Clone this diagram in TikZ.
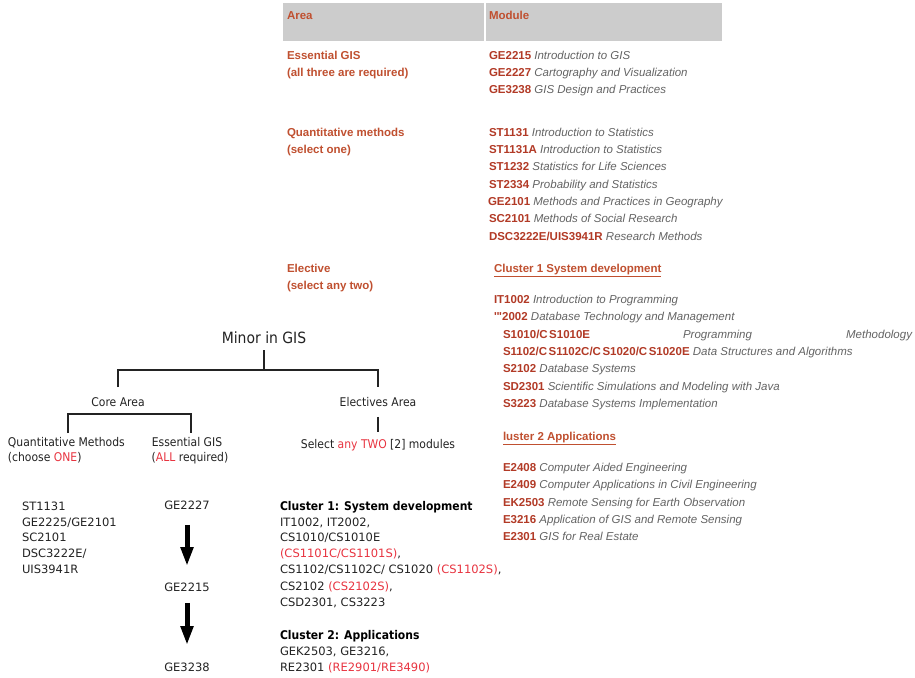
\documentclass[tikz,border=0pt]{standalone}
\usepackage{fontspec}
\setmainfont{Liberation Sans}
\newfontfamily\dvs{DejaVu Sans}
\newfontfamily\dvc{DejaVu Sans}[FakeStretch=0.9]
\usetikzlibrary{arrows.meta}
\definecolor{hdrgray}{RGB}{204,204,204}
\definecolor{areaC}{RGB}{192,80,48}
\definecolor{codeC}{RGB}{178,58,38}
\definecolor{descC}{RGB}{100,100,100}
\definecolor{redC}{RGB}{232,52,64}
\definecolor{inkC}{RGB}{35,35,35}
\newcommand\modl[2]{{\bfseries\color{codeC}#1} {\itshape\color{descC}#2}}
\tikzset{
  txt/.style={inner sep=0pt, outer sep=0pt, text depth=0pt},
  tbl/.style={txt, font=\fontsize{11.5}{13}\selectfont, text height=8.2pt, anchor=west},
  area/.style={tbl, font=\fontsize{11.5}{13}\selectfont\bfseries, text=areaC},
  tree/.style={txt, font=\dvc\fontsize{12}{14}\selectfont, text=inkC, text height=8.75pt},
  lst/.style={txt, font=\dvs\fontsize{11.5}{14}\selectfont, text=inkC, text height=8.4pt},
  lstw/.style={lst, anchor=west},
  clh/.style={txt, font=\dvc\bfseries\fontsize{12}{14}\selectfont, text=black, text height=8.75pt, anchor=west},
  link/.style={line width=1.4pt, draw=inkC},
  bigarrow/.style={line width=5pt, draw=black, -{Triangle[width=12pt,length=19pt]}},
  hdrcell/.style={fill=hdrgray, inner sep=0pt, outer sep=0pt, anchor=north west, minimum height=38pt}
}
\begin{document}
\begin{tikzpicture}[x=1pt,y=-1pt]
\useasboundingbox (0,0) rectangle (915,677);
\fill[white] (0,0) rectangle (915,677);

% ---- table header
\node[hdrcell, minimum width=201pt] (hA) at (283,3) {};
\node[hdrcell, minimum width=236pt] (hM) at (486,3) {};
\node[area] (hAt) at (287,15) {Area};
\node[area] (hMt) at (489,15) {Module};

% ---- area column
\node[area] (a1) at (287,55) {Essential GIS};
\node[area] (a1b) at (287,72) {(all three are required)};
\node[area] (a2) at (287,132) {Quantitative methods};
\node[area] (a2b) at (287,149) {(select one)};
\node[area] (a3) at (287,268) {Elective};
\node[area] (a3b) at (287,285) {(select any two)};

% ---- module column
\node[tbl] (m1) at (489,55) {\modl{GE2215}{Introduction to GIS}};
\node[tbl] (m2) at (489,72) {\modl{GE2227}{Cartography and Visualization}};
\node[tbl] (m3) at (489,89) {\modl{GE3238}{GIS Design and Practices}};
\node[tbl] (q1) at (489,132) {\modl{ST1131}{Introduction to Statistics}};
\node[tbl] (q2) at (489,149) {\modl{ST1131A}{Introduction to Statistics}};
\node[tbl] (q3) at (489,166) {\modl{ST1232}{Statistics for Life Sciences}};
\node[tbl] (q4) at (489,184) {\modl{ST2334}{Probability and Statistics}};
\node[tbl] (q5) at (488,201) {\modl{GE2101}{Methods and Practices in Geography}};
\node[tbl] (q6) at (489,218) {\modl{SC2101}{Methods of Social Research}};
\node[tbl] (q7) at (489,236) {\modl{DSC3222E/UIS3941R}{Research Methods}};

\node[area] (c1) at (494,268) {\underline{Cluster 1 System development}};
\node[tbl] (e1) at (494,299) {\modl{IT1002}{Introduction to Programming}};
\node[tbl] (e2) at (494,316) {\modl{\textquotesingle\textquotedbl2002}{Database Technology and Management}};
\node[tbl] (e3) at (503,334) {{\bfseries\color{codeC}S1010/C\kern1.5pt S1010E}};
\node[tbl] (e3b) at (683,334) {\itshape\color{descC}Programming};
\node[tbl, anchor=east] (e3c) at (912,334) {\itshape\color{descC}Methodology};
\node[tbl] (e4) at (503,351) {\modl{S1102/C\kern1.5pt S1102C/C\kern1.5pt S1020/C\kern1.5pt S1020E}{Data Structures and Algorithms}};
\node[tbl] (e5) at (503,368) {\modl{S2102}{Database Systems}};
\node[tbl] (e6) at (503,386) {\modl{SD2301}{Scientific Simulations and Modeling with Java}};
\node[tbl] (e7) at (503,403) {\modl{S3223}{Database Systems Implementation}};

\node[area] (c2) at (503,436) {\underline{luster 2 Applications}};
\node[tbl] (f1) at (503,467) {\modl{E2408}{Computer Aided Engineering}};
\node[tbl] (f2) at (503,484) {\modl{E2409}{Computer Applications in Civil Engineering}};
\node[tbl] (f3) at (503,502) {\modl{EK2503}{Remote Sensing for Earth Observation}};
\node[tbl] (f4) at (503,519) {\modl{E3216}{Application of GIS and Remote Sensing}};
\node[tbl] (f5) at (503,536) {\modl{E2301}{GIS for Real Estate}};

% ---- tree
\node[tree, font=\dvc\fontsize{15.5}{18}\selectfont, text height=11.3pt] (minor) at (264,338) {Minor in GIS};
\node[tree] (core) at (118,402) {Core Area};
\node[tree] (elect) at (378,402) {Electives Area};
\node[tree, anchor=west] (qm1) at (8,442) {Quantitative Methods};
\node[tree, anchor=west] (qm2) at (8,457) {(choose {\color{redC}ONE})};
\node[tree] (es1) at (187,442) {Essential GIS};
\node[tree] (es2) at (190,457) {({\color{redC}ALL} required)};
\node[tree] (sel) at (378,444) {Select {\color{redC}any TWO} [2] modules};

\coordinate (jn) at (264,370);
\draw[link] ([yshift=-6.35pt]minor.south) -- (jn);
\draw[link] ([yshift=10.6pt]core.north) |- (jn) -| ([yshift=10.6pt]elect.north);
\draw[link] ([shift={(1.5pt,4.6pt)}]qm1.north) |- ([yshift=-7.6pt]core.south) -| ([shift={(4pt,4.6pt)}]es1.north);
\draw[link] ([yshift=-10.6pt]elect.south) -- ([yshift=7.6pt]sel.north);

% ---- lower lists
\node[lstw] (s1) at (22,506) {ST1131};
\node[lstw] (s2) at (22,522) {GE2225/GE2101};
\node[lstw] (s3) at (22,537) {SC2101};
\node[lstw] (s4) at (22,553) {DSC3222E/};
\node[lstw] (s5) at (22,569) {UIS3941R};

\node[lst] (ge1) at (187,505) {GE2227};
\node[lst] (ge2) at (187,587) {GE2215};
\node[lst] (ge3) at (187,667) {GE3238};
\draw[bigarrow, shorten <=15.6pt, shorten >=16.7pt] (ge1) -- (ge2);
\draw[bigarrow, shorten <=11.7pt, shorten >=17.7pt] (ge2) -- (ge3);

\node[clh] (k1) at (280,506) {Cluster 1: System development};
\node[lstw] (k1a) at (280,522) {IT1002, IT2002,};
\node[lstw] (k1b) at (280,537) {CS1010/CS1010E};
\node[lstw] (k1c) at (280,553) {{\color{redC}(CS1101C/CS1101S)},};
\node[lstw] (k1d) at (280,569) {CS1102/CS1102C/ CS1020 {\color{redC}(CS1102S)},};
\node[lstw] (k1e) at (280,586) {CS2102 {\color{redC}(CS2102S)},};
\node[lstw] (k1f) at (280,602) {CSD2301, CS3223};
\node[clh] (k2) at (280,635) {Cluster 2: Applications};
\node[lstw] (k2a) at (280,651) {GEK2503, GE3216,};
\node[lstw] (k2b) at (280,667) {RE2301 {\color{redC}(RE2901/RE3490)}};
\end{tikzpicture}
\end{document}
